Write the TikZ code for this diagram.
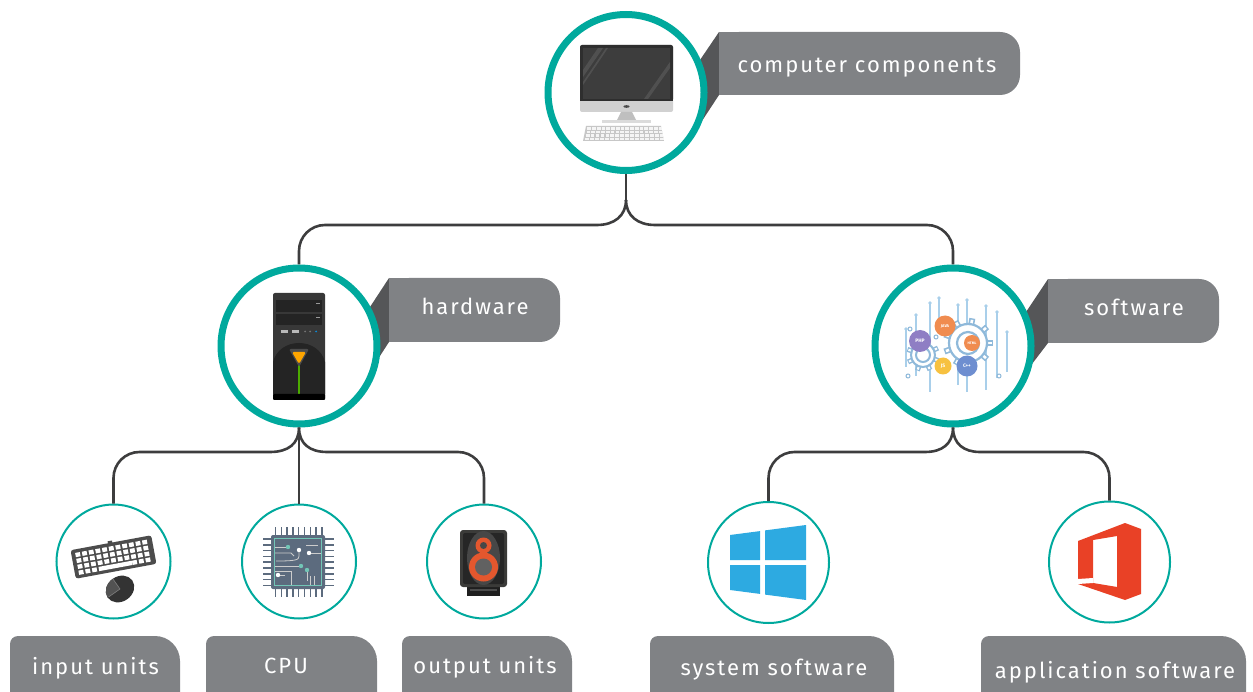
\documentclass[tikz,border=0pt]{standalone}
\usepackage{fontspec}
\setmainfont{Fira Sans}
\usetikzlibrary{calc}
\definecolor{ring}{HTML}{00A99D}
\definecolor{lblgray}{HTML}{808285}
\definecolor{folddark}{HTML}{555658}
\definecolor{wire}{HTML}{3D3D3E}
\definecolor{winblue}{HTML}{2DAAE1}
\definecolor{offred}{HTML}{E94126}
\definecolor{chip}{HTML}{5C6B7E}
\definecolor{chipline}{HTML}{72C5B6}
\definecolor{spk}{HTML}{3B3B39}
\definecolor{spkorange}{HTML}{E4572E}
\definecolor{softblue}{HTML}{A9CFEA}
\definecolor{gearblue}{HTML}{8FB9DA}
\definecolor{phpc}{HTML}{8F7EC4}
\definecolor{javac}{HTML}{F08C50}
\definecolor{jsc}{HTML}{F7C140}
\definecolor{cppc}{HTML}{6E8ED0}
\begin{document}
\begin{tikzpicture}[x=1pt,y=-1pt,
  bigring/.style={circle,draw=ring,line width=7pt,fill=white,minimum size=156pt,inner sep=0pt},
  smallring/.style={circle,draw=ring,line width=2pt,fill=white,minimum size=#1,inner sep=0pt},
  wireline/.style={draw=wire,line width=2.6pt},
  lbltext/.style={text=white,anchor=base,inner sep=0pt,
    font=\fontsize{22}{26}\selectfont\addfontfeatures{LetterSpace=9}},
  badge/.style={circle,inner sep=0pt,minimum size=#1,text=white,
    font=\fontsize{5}{6}\selectfont\bfseries},
]
\useasboundingbox (0,0) rectangle (1253,692);
\clip (0,0) rectangle (1253,692);

% ---------- upper label tabs ----------
\fill[folddark] (719,32) -- (719,95) -- (700,124) -- (690,92) -- (700,60) -- cycle;
\fill[lblgray, rounded corners=20pt] (719,32) rectangle (1020,95);
\fill[lblgray] (719,32) rectangle (780,95);

\fill[folddark] (389,278) -- (389,342) -- (378,359) -- (365,330) -- (370,307) -- cycle;
\fill[lblgray, rounded corners=20pt] (389,278) rectangle (560,342);
\fill[lblgray] (389,278) rectangle (440,342);

\fill[folddark] (1048,279) -- (1048,343) -- (1032,364) -- (1015,340) -- (1026,312) -- cycle;
\fill[lblgray, rounded corners=20pt] (1048,279) rectangle (1219,343);
\fill[lblgray] (1048,279) rectangle (1100,343);

% ---------- lower label tabs ----------
\foreach \a/\b in {10/180, 206/377, 402/572, 650/894, 981/1246}{
  \fill[lblgray, rounded corners=25pt] (\a,636) rectangle (\b,720);
  \fill[lblgray, rounded corners=8pt] (\a,636) rectangle ({\a+60},720);
}

% ---------- circles ----------
\node[bigring] (top) at (626,92.5) {};
\node[bigring] (hw) at (299,346) {};
\node[bigring] (sw) at (953,346) {};
\node[smallring=114pt] (in) at (113.5,561.5) {};
\node[smallring=114pt] (cpu) at (299,561.5) {};
\node[smallring=114pt] (out) at (484,561.5) {};
\node[smallring=121pt] (sys) at (768.5,562.5) {};
\node[smallring=121pt] (app) at (1109.5,562) {};

% ---------- connectors ----------
\coordinate (tsplit) at (626,200);
\draw[wireline] (top.south) -- (tsplit);
\draw[wireline] (tsplit) .. controls (626,216) and (614,225) .. (597,225)
  [rounded corners=26pt] -| (hw.north);
\draw[wireline] (tsplit) .. controls (626,216) and (638,225) .. (655,225)
  [rounded corners=26pt] -| (sw.north);

\draw[wireline] (hw.south) .. controls (299,444) and (288,452) .. (270,452)
  [rounded corners=26pt] -| (in.north);
\draw[wireline] (hw.south) -- (cpu.north);
\draw[wireline] (hw.south) .. controls (299,444) and (310,452) .. (327,452)
  [rounded corners=26pt] -| (out.north);

\draw[wireline] (sw.south) .. controls (953,444) and (942,452) .. (925,452)
  [rounded corners=26pt] -| (sys.north);
\draw[wireline] (sw.south) .. controls (953,444) and (964,452) .. (980,452)
  [rounded corners=26pt] -| (app.north);

% ---------- label texts ----------
\node[lbltext] (ltop) at (867,73) {computer components};
\node[lbltext] (lhw) at (475,315) {hardware};
\node[lbltext] (lsw) at (1134,316) {software};
\node[lbltext] (lin) at (95.5,674) {input units};
\node[lbltext] (lcpu) at (286,673) {CPU};
\node[lbltext] (lout) at (485,673) {output units};
\node[lbltext] (lsys) at (774,675) {system software};
\node[lbltext] (lapp) at (1115,678) {application software};

% ---------- desktop computer ----------
\fill[black!18, rounded corners=2pt] (580,45) rectangle (673,112);
\fill[black!82, rounded corners=2pt] (580,45) rectangle (673,101);
\fill[black!82] (580,95) rectangle (673,101);
\fill[black!76] (583,48) rectangle (670,99);
\fill[white, opacity=0.10] (583,70) -- (598,48) -- (603,48) -- (583,77) -- cycle;
\fill[white, opacity=0.10] (583,82) -- (606,48) -- (608,48) -- (583,85) -- cycle;
\fill[white, opacity=0.10] (644,99) -- (670,62) -- (670,68) -- (648,99) -- cycle;
\fill[black!70] (626.5,106.5) ellipse (3.2 and 1.3);
\fill[black!25] (621,112) -- (632,112) -- (636,120) -- (617,120) -- cycle;
\fill[black!14] (602,120) rectangle (651,123);
\fill[black!22] (586,126) -- (661,126) -- (664,141) -- (583,141) -- cycle;
\foreach \r in {0,...,3}{
  \foreach \k in {0,...,15}{
    \fill[black!4] ({587.3-0.75*\r+\k*(4.75+0.09*\r)},{127.5+3.4*\r}) rectangle ++(3.7,2.5);
  }
}

% ---------- tower ----------
\fill[black!78, rounded corners=2pt] (273,293) rectangle (325,400);
\fill[black!86] (276,300) rectangle (322,312);
\fill[black!86] (276,314) rectangle (322,325);
\fill[black!40] (316,303) rectangle (320,304.5);
\fill[black!40] (316,317) rectangle (320,318.5);
\fill[black!28] (281,330) rectangle (288,333);
\fill[black!28] (292,330) rectangle (299,333);
\fill[black!55] (305,331.5) circle (1);
\fill[black!55] (310,331.5) circle (1);
\fill[cyan!70!blue] (316,331.5) circle (1);
\fill[black!86] (273,362) .. controls (276,350) and (287,343) .. (299,343)
  .. controls (311,343) and (322,350) .. (325,362) -- (325,394) -- (273,394) -- cycle;
\draw[line width=2.6pt, color=green!45!black!60!lime] (299,362) -- (299,394);
\fill[black!70, rounded corners=2pt] (289,349) -- (309,349) -- (299,367) -- cycle;
\fill[orange!70!yellow, rounded corners=1.5pt] (292,352) -- (306,352) -- (299,364) -- cycle;
\fill[black, rounded corners=1pt] (273,394) rectangle (325,400);

% ---------- software gears ----------
\foreach \x/\a/\b in {906/329/367, 916/315/376, 930/303/392, 939/298/333,
  958/305/385, 967/300/392, 986/306/390, 997/312/378, 1007/332/372}{
  \draw[softblue, line width=1.6pt] (\x,\a) -- (\x,\b);
  \fill[softblue] (\x,\a) circle (1.8);
}
\foreach \a in {0,40,...,320}{
  \draw[gearblue, line width=6pt] ($(968,343)+(\a:18)$) -- ($(968,343)+(\a:25)$);
  \draw[white, line width=2.6pt] ($(968,343)+(\a:19)$) -- ($(968,343)+(\a:23.5)$);
}
\draw[gearblue, line width=2.2pt, fill=white] (968,343) circle (19);
\draw[gearblue, line width=2.2pt] (968,343) circle (11);
\foreach \a in {20,65,...,335}{
  \draw[gearblue, line width=5pt] ($(923,355)+(\a:11)$) -- ($(923,355)+(\a:16.5)$);
  \draw[white, line width=2pt] ($(923,355)+(\a:12)$) -- ($(923,355)+(\a:15.5)$);
}
\draw[gearblue, line width=2pt, fill=white] (923,355) circle (12);
\draw[gearblue, line width=2pt] (923,355) circle (7);
\foreach \p in {(910,329),(936,337),(908,376),(999,376)}{
  \draw[gearblue, line width=1pt, fill=white] \p circle (2);
}
\node[badge=22pt, fill=phpc] (php) at (920,341) {PHP};
\node[badge=21pt, fill=javac] (java) at (945,326) {\fontsize{4}{5}\selectfont JAVA};
\node[badge=16pt, fill=javac] (html) at (972,343) {\fontsize{3.5}{4}\selectfont HTML};
\node[badge=17pt, fill=jsc] (js) at (943,366) {JS};
\node[badge=21pt, fill=cppc] (cpp) at (967,366) {C++};

% ---------- keyboard and mouse ----------
\begin{scope}[shift={(113.5,557)}, rotate=10.5]
  \fill[black!70] (-3,-16.5) rectangle (1.5,-14);
  \fill[black!70, rounded corners=2.5pt] (-41,-14.5) rectangle (41,14.5);
  \foreach \r in {0,1,2}{
    \foreach \k in {0,...,10}{
      \fill[white] ({-37+\k*6.8},{-11+6*\r}) rectangle ++(4.8,4.3);
    }
  }
  \foreach \k in {0,1,2,8,9,10}{
    \fill[white] ({-37+\k*6.8},7) rectangle ++(4.8,4.3);
  }
  \fill[white] (-16.6,7) rectangle (17.2,11.3);
\end{scope}
\begin{scope}[shift={(120,589)}, rotate=35]
  \fill[black!80] (0,0) ellipse (15 and 12.5);
  \fill[black!68] (-15,0) arc[start angle=180, end angle=270, x radius=15, y radius=12.5] -- (0,0) -- cycle;
  \draw[black!50, line width=0.6pt] (-14,0) -- (0,0) -- (0,-12);
\end{scope}

% ---------- processor ----------
\foreach \i in {0,...,8}{
  \draw[chip, line width=1.5pt] ({275.5+\i*5.8},527) -- ({275.5+\i*5.8},597);
  \draw[chip, line width=1.5pt] (263,{539+\i*5.8}) -- (334,{539+\i*5.8});
}
\fill[chip, rounded corners=2pt] (271,535) rectangle (325,589);
\draw[chipline, line width=1.2pt] (274.5,538.5) rectangle (321.5,585.5);
\draw[black!20, line width=0.8pt] (275,547) -- (288,547);
\fill[chipline] (288,547) circle (2.2);
\draw[black!20, line width=0.8pt] (275,553) -- (291,553) -- (294,556);
\draw[black!20, line width=0.8pt] (299,550) -- (299,556) .. controls (299,560) and (296,561) .. (276,561);
\fill[white] (299,550) circle (2.2);
\draw[black!20, line width=0.8pt] (309,553) -- (321,553);
\fill[white] (309,553) circle (2.2);
\draw[black!20, line width=0.8pt] (306,545) -- (318,545);
\draw[black!20, line width=0.8pt] (275,566) -- (301,566);
\fill[chipline] (301,566) circle (2.2);
\draw[black!20, line width=0.8pt] (275,571) -- (291,571) -- (291,585);
\draw[black!20, line width=0.8pt] (278,575) -- (285,575);
\fill[white] (278,575) circle (2.2);
\draw[black!20, line width=0.8pt] (307,570) -- (307,581);
\fill[chipline] (307,570) circle (2.2);
\draw[black!20, line width=0.8pt] (310,576) -- (310,585);
\draw[black!20, line width=0.8pt] (314,576) -- (314,585);

% ---------- speaker ----------
\fill[black!88] (467,585) rectangle (500,596);
\fill[black!70] (470,589) rectangle (497,591);
\fill[spk, rounded corners=3pt] (460,530) rectangle (507,587);
\fill[black!85, rounded corners=2pt] (463,533) rectangle (504,584);
\fill[black!72] (483.5,558) ellipse (16.5 and 27);
\fill[spkorange] (483.5,545.5) circle (8);
\fill[black!72] (483.5,545.5) circle (3.5);
\fill[spkorange] (483.5,567) circle (14.5);
\fill[black!62] (483.5,567) circle (8.5);

% ---------- windows logo ----------
\fill[winblue] (730,535) -- (760,531.1) -- (760,560) -- (730,560) -- cycle;
\fill[winblue] (765,530.4) -- (806,525) -- (806,560) -- (765,560) -- cycle;
\fill[winblue] (730,565) -- (760,565) -- (760,593.9) -- (730,590) -- cycle;
\fill[winblue] (765,565) -- (806,565) -- (806,600) -- (765,594.6) -- cycle;

% ---------- office logo ----------
\fill[offred, even odd rule]
  (1078,541) -- (1125,523) -- (1141,529) -- (1141,594) -- (1125,600) -- (1078,584) -- cycle
  (1093,540) -- (1117,536) -- (1117,587) -- (1093,583) -- cycle;
\fill[white] (1078,584) -- (1093,583) -- (1093,578) -- (1078,579) -- cycle;
\end{tikzpicture}
\end{document}
